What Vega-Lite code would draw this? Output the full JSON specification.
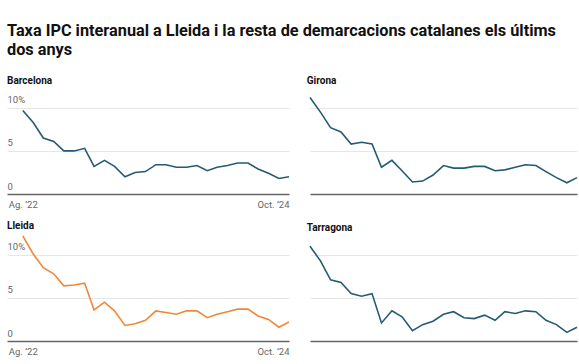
{
  "$schema": "https://vega.github.io/schema/vega-lite/v6.json",
  "padding": {"left": 7, "top": 22, "right": 5, "bottom": 5},
  "config": {
    "font": "Roboto",
    "view": {"stroke": null},
    "axis": {"labelFont": "Roboto", "labelColor": "#666666", "labelFontSize": 9.5, "gridColor": "#e6e6e6", "gridWidth": 1, "minExtent": 0},
    "title": {"font": "Roboto"},
    "line": {"strokeWidth": 1.6}
  },
  "title": {
    "text": ["Taxa IPC interanual a Lleida i la resta de demarcacions catalanes els últims", "dos anys"],
    "anchor": "start",
    "fontSize": 16.3,
    "fontWeight": "bold",
    "color": "#111111",
    "lineHeight": 19,
    "offset": 18
  },
  "data": {
    "values": [
      {"m": "2022-08", "Barcelona": 9.7, "Girona": 11.2, "Lleida": 12.2, "Tarragona": 11.0},
      {"m": "2022-09", "Barcelona": 8.3, "Girona": 9.5, "Lleida": 10.1, "Tarragona": 9.3},
      {"m": "2022-10", "Barcelona": 6.5, "Girona": 7.7, "Lleida": 8.5, "Tarragona": 7.1},
      {"m": "2022-11", "Barcelona": 6.1, "Girona": 7.2, "Lleida": 7.8, "Tarragona": 6.8},
      {"m": "2022-12", "Barcelona": 5.0, "Girona": 5.8, "Lleida": 6.4, "Tarragona": 5.5},
      {"m": "2023-01", "Barcelona": 5.0, "Girona": 6.0, "Lleida": 6.5, "Tarragona": 5.2},
      {"m": "2023-02", "Barcelona": 5.3, "Girona": 5.8, "Lleida": 6.7, "Tarragona": 5.5},
      {"m": "2023-03", "Barcelona": 3.2, "Girona": 3.1, "Lleida": 3.6, "Tarragona": 2.1},
      {"m": "2023-04", "Barcelona": 3.9, "Girona": 3.9, "Lleida": 4.5, "Tarragona": 3.5},
      {"m": "2023-05", "Barcelona": 3.2, "Girona": 2.7, "Lleida": 3.5, "Tarragona": 2.8},
      {"m": "2023-06", "Barcelona": 2.0, "Girona": 1.4, "Lleida": 1.8, "Tarragona": 1.2},
      {"m": "2023-07", "Barcelona": 2.5, "Girona": 1.5, "Lleida": 2.0, "Tarragona": 1.9},
      {"m": "2023-08", "Barcelona": 2.6, "Girona": 2.2, "Lleida": 2.4, "Tarragona": 2.3},
      {"m": "2023-09", "Barcelona": 3.4, "Girona": 3.3, "Lleida": 3.5, "Tarragona": 3.1},
      {"m": "2023-10", "Barcelona": 3.4, "Girona": 3.0, "Lleida": 3.3, "Tarragona": 3.4},
      {"m": "2023-11", "Barcelona": 3.1, "Girona": 3.0, "Lleida": 3.1, "Tarragona": 2.7},
      {"m": "2023-12", "Barcelona": 3.1, "Girona": 3.2, "Lleida": 3.5, "Tarragona": 2.6},
      {"m": "2024-01", "Barcelona": 3.3, "Girona": 3.2, "Lleida": 3.5, "Tarragona": 3.0},
      {"m": "2024-02", "Barcelona": 2.7, "Girona": 2.7, "Lleida": 2.7, "Tarragona": 2.4},
      {"m": "2024-03", "Barcelona": 3.1, "Girona": 2.8, "Lleida": 3.1, "Tarragona": 3.4},
      {"m": "2024-04", "Barcelona": 3.3, "Girona": 3.1, "Lleida": 3.4, "Tarragona": 3.2},
      {"m": "2024-05", "Barcelona": 3.6, "Girona": 3.4, "Lleida": 3.7, "Tarragona": 3.5},
      {"m": "2024-06", "Barcelona": 3.6, "Girona": 3.3, "Lleida": 3.7, "Tarragona": 3.4},
      {"m": "2024-07", "Barcelona": 2.9, "Girona": 2.6, "Lleida": 2.9, "Tarragona": 2.4},
      {"m": "2024-08", "Barcelona": 2.4, "Girona": 1.9, "Lleida": 2.5, "Tarragona": 1.9},
      {"m": "2024-09", "Barcelona": 1.8, "Girona": 1.3, "Lleida": 1.6, "Tarragona": 1.0},
      {"m": "2024-10", "Barcelona": 2.0, "Girona": 1.9, "Lleida": 2.2, "Tarragona": 1.6}
    ]
  },
  "spacing": 11,
  "vconcat": [
    {
      "spacing": 13,
      "hconcat": [
        {
          "width": 282, "height": 106,
          "title": {"text": "Barcelona", "anchor": "start", "fontSize": 10, "fontWeight": "bold", "color": "#111111", "offset": 2},
          "mark": {"type": "line", "color": "#245b73"},
          "encoding": {
            "x": {"field": "m", "type": "temporal",
              "scale": {"domain": [{"year": 2022, "month": 6, "date": 15, "utc": true}, {"year": 2024, "month": 10, "date": 1, "utc": true}]},
              "axis": {"title": null, "grid": false, "ticks": false, "domainColor": "#666666", "domainWidth": 1.5, "labelPadding": 5, "labelFlush": false,
                "values": [{"year": 2022, "month": 8, "date": 1, "utc": true}, {"year": 2024, "month": 10, "date": 1, "utc": true}],
                "labelExpr": "datum.value < 1680000000000 ? 'Ag. ’22' : 'Oct. ’24'",
                "labelAlign": {"condition": {"test": "datum.value < 1680000000000", "value": "center"}, "value": "right"}}},
            "y": {"field": "Barcelona", "type": "quantitative", "scale": {"domain": [0, 12.3]},
              "axis": {"title": null, "values": [0, 5, 10], "domain": false, "ticks": false, "tickSize": 0, "labelPadding": 0, "labelAlign": "left", "labelBaseline": "bottom", "labelOffset": -3,
                "labelExpr": "datum.value == 10 ? '10%' : datum.label"}}
          }
        },
        {
          "width": 267, "height": 106,
          "title": {"text": "Girona", "anchor": "start", "fontSize": 10, "fontWeight": "bold", "color": "#111111", "offset": 2},
          "mark": {"type": "line", "color": "#245b73"},
          "encoding": {
            "x": {"field": "m", "type": "temporal",
              "scale": {"domain": [{"year": 2022, "month": 8, "date": 1, "utc": true}, {"year": 2024, "month": 10, "date": 1, "utc": true}]},
              "axis": {"title": null, "grid": false, "ticks": false, "labels": false, "domainColor": "#666666", "domainWidth": 1.5}},
            "y": {"field": "Girona", "type": "quantitative", "scale": {"domain": [0, 12.3]},
              "axis": {"title": null, "values": [0, 5, 10], "domain": false, "ticks": false, "labels": false}}
          }
        }
      ]
    },
    {
      "spacing": 13,
      "hconcat": [
        {
          "width": 282, "height": 106,
          "title": {"text": "Lleida", "anchor": "start", "fontSize": 10, "fontWeight": "bold", "color": "#111111", "offset": 2},
          "mark": {"type": "line", "color": "#f0873a"},
          "encoding": {
            "x": {"field": "m", "type": "temporal",
              "scale": {"domain": [{"year": 2022, "month": 6, "date": 15, "utc": true}, {"year": 2024, "month": 10, "date": 1, "utc": true}]},
              "axis": {"title": null, "grid": false, "ticks": false, "domainColor": "#666666", "domainWidth": 1.5, "labelPadding": 5, "labelFlush": false,
                "values": [{"year": 2022, "month": 8, "date": 1, "utc": true}, {"year": 2024, "month": 10, "date": 1, "utc": true}],
                "labelExpr": "datum.value < 1680000000000 ? 'Ag. ’22' : 'Oct. ’24'",
                "labelAlign": {"condition": {"test": "datum.value < 1680000000000", "value": "center"}, "value": "right"}}},
            "y": {"field": "Lleida", "type": "quantitative", "scale": {"domain": [0, 12.3]},
              "axis": {"title": null, "values": [0, 5, 10], "domain": false, "ticks": false, "tickSize": 0, "labelPadding": 0, "labelAlign": "left", "labelBaseline": "bottom", "labelOffset": -3,
                "labelExpr": "datum.value == 10 ? '10%' : datum.label"}}
          }
        },
        {
          "width": 267, "height": 106,
          "title": {"text": "Tarragona", "anchor": "start", "fontSize": 10, "fontWeight": "bold", "color": "#111111", "offset": 2},
          "mark": {"type": "line", "color": "#245b73"},
          "encoding": {
            "x": {"field": "m", "type": "temporal",
              "scale": {"domain": [{"year": 2022, "month": 8, "date": 1, "utc": true}, {"year": 2024, "month": 10, "date": 1, "utc": true}]},
              "axis": {"title": null, "grid": false, "ticks": false, "labels": false, "domainColor": "#666666", "domainWidth": 1.5}},
            "y": {"field": "Tarragona", "type": "quantitative", "scale": {"domain": [0, 12.3]},
              "axis": {"title": null, "values": [0, 5, 10], "domain": false, "ticks": false, "labels": false}}
          }
        }
      ]
    }
  ]
}
